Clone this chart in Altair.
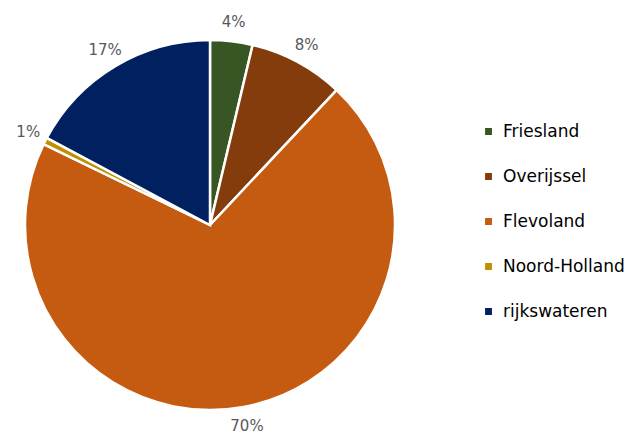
import altair as alt
import pandas as pd

categories = ["Friesland", "Overijssel", "Flevoland", "Noord-Holland", "rijkswateren"]
values = [3.7, 8.3, 70.2, 0.6, 17.2]
colors = ["#375623", "#843C0C", "#C55A11", "#BF9000", "#002060"]

df = pd.DataFrame({"cat": categories, "value": values, "idx": list(range(len(categories)))})

base = alt.Chart(df).encode(
    theta=alt.Theta("value:Q", stack=True),
    order=alt.Order("idx:Q"),
    x=alt.value(202),
    y=alt.value(217),
)

arc = base.mark_arc(radius=185, stroke="white", strokeWidth=2.5).encode(
    color=alt.Color(
        "cat:N",
        scale=alt.Scale(domain=categories, range=colors),
        sort=categories,
        legend=alt.Legend(
            title=None,
            orient="none",
            legendX=472,
            legendY=115,
            symbolType="square",
            symbolSize=70,
            labelFontSize=17,
            labelFont="DejaVu Sans",
            labelColor="#000000",
            rowPadding=27,
            labelOffset=6,
        ),
    )
)

text = base.transform_calculate(
    label="format(datum.value, '.0f') + '%'"
).mark_text(radius=204, fontSize=15, font="DejaVu Sans", color="#595959").encode(
    text="label:N"
)

chart = alt.layer(arc, text).properties(
    width=600, height=410, padding=0
).configure_view(stroke=None)

chart.save("out.html", embed_options={"renderer": "svg", "actions": False})
